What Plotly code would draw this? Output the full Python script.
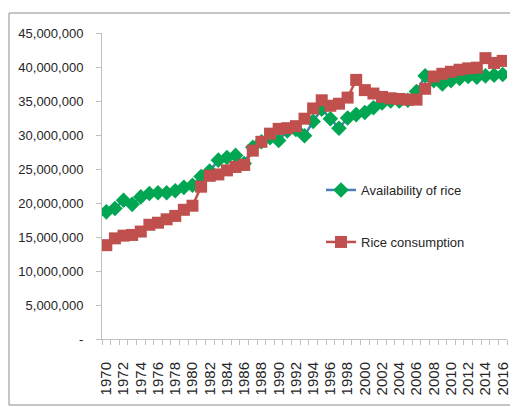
import plotly.graph_objects as go

years = list(range(1970, 2017))
availability_m = [18.7, 19.2, 20.4, 19.8, 20.9, 21.4, 21.5, 21.5, 21.8, 22.3,
                  22.6, 23.9, 24.7, 26.3, 26.7, 27.0, 25.8, 28.2, 29.0, 29.6,
                  29.2, 30.6, 30.8, 29.9, 32.0, 33.8, 32.4, 31.0, 32.5, 33.0,
                  33.3, 34.0, 34.7, 35.0, 35.0, 35.1, 36.4, 38.7, 38.0, 37.5,
                  38.0, 38.3, 38.6, 38.5, 38.7, 38.8, 38.9]
consumption_m = [13.8, 14.8, 15.2, 15.3, 15.8, 16.8, 17.1, 17.6, 18.1, 19.0,
                 19.6, 22.4, 24.0, 24.2, 24.8, 25.3, 25.6, 27.7, 29.0, 30.2,
                 30.9, 31.0, 31.3, 32.4, 33.9, 35.1, 34.3, 34.6, 35.5, 38.1,
                 36.6, 36.1, 35.6, 35.4, 35.3, 35.2, 35.2, 36.8, 38.6, 39.0,
                 39.3, 39.6, 39.8, 39.9, 41.3, 40.6, 40.9]
availability = [v * 1e6 for v in availability_m]
consumption = [v * 1e6 for v in consumption_m]

y_tickvals = [0, 5e6, 10e6, 15e6, 20e6, 25e6, 30e6, 35e6, 40e6, 45e6]
y_ticktext = ["-", "5,000,000", "10,000,000", "15,000,000", "20,000,000",
              "25,000,000", "30,000,000", "35,000,000", "40,000,000", "45,000,000"]
x_tickvals = list(range(1970, 2017, 2))
x_ticktext = [str(y) for y in x_tickvals]

label_font = "Liberation Sans, Arial"

fig = go.Figure()
fig.add_trace(go.Scatter(
    x=years, y=availability, name="Availability of rice", mode="lines+markers",
    line=dict(color="#4a7ebb", width=2.5),
    marker=dict(symbol="diamond", size=12, color="#00a651", line=dict(width=0)),
    legend="legend"))
fig.add_trace(go.Scatter(
    x=years, y=consumption, name="Rice consumption", mode="lines+markers",
    line=dict(color="#c0504d", width=2.5),
    marker=dict(symbol="square", size=12, color="#c0504d", line=dict(width=0)),
    legend="legend2"))

# page body has an 8px margin; figure is sized/placed to compensate
OFF = 8
W, H = 518 - OFF, 407 - OFF
L, T = 102 - OFF, 33 - OFF
R = W - (507 - OFF)
B = H - (339 - OFF)
pw = W - L - R
ph = H - T - B

def px_x(p):
    return (p - OFF - L) / pw

def px_y(p):
    return (H - B - (p - OFF)) / ph

fig.update_layout(
    width=W, height=H,
    margin=dict(l=L, r=R, t=T, b=B, pad=0, autoexpand=False),
    paper_bgcolor="white", plot_bgcolor="white",
    showlegend=True,
    legend=dict(x=px_x(321), y=px_y(190), xanchor="left", yanchor="middle",
                bgcolor="rgba(0,0,0,0)", itemwidth=30,
                font=dict(family=label_font, size=13, color="#262626")),
    legend2=dict(x=px_x(321), y=px_y(242), xanchor="left", yanchor="middle",
                 bgcolor="rgba(0,0,0,0)", itemwidth=30,
                 font=dict(family=label_font, size=13, color="#262626")),
    xaxis=dict(range=[1969.5, 2016.5], tickvals=x_tickvals, ticktext=x_ticktext,
               tickangle=-90, ticks="", showgrid=False, zeroline=False,
               automargin=False,
               showline=True, linecolor="#bfbfbf", linewidth=1,
               ticklabelstandoff=16,
               tickfont=dict(family="Liberation Sans, Arial", size=15, color="#262626"),
               minor=dict(ticks="outside", ticklen=5, tick0=1969.5, dtick=1,
                          tickcolor="#bfbfbf", tickwidth=1, showgrid=False)),
    yaxis=dict(range=[0, 45e6], tickvals=y_tickvals, ticktext=y_ticktext,
               ticks="outside", ticklen=5, tickcolor="#bfbfbf",
               showgrid=False, zeroline=False, automargin=False,
               showline=True, linecolor="#bfbfbf", linewidth=1,
               ticklabelstandoff=10,
               tickfont=dict(family=label_font, size=13, color="#262626")),
    shapes=[dict(type="rect", xref="paper", yref="paper",
                 x0=px_x(9), x1=px_x(515), y0=px_y(405), y1=px_y(13),
                 line=dict(color="#8c8c8c", width=1), fillcolor="rgba(0,0,0,0)",
                 layer="below")],
)

fig.write_html("out.html")
